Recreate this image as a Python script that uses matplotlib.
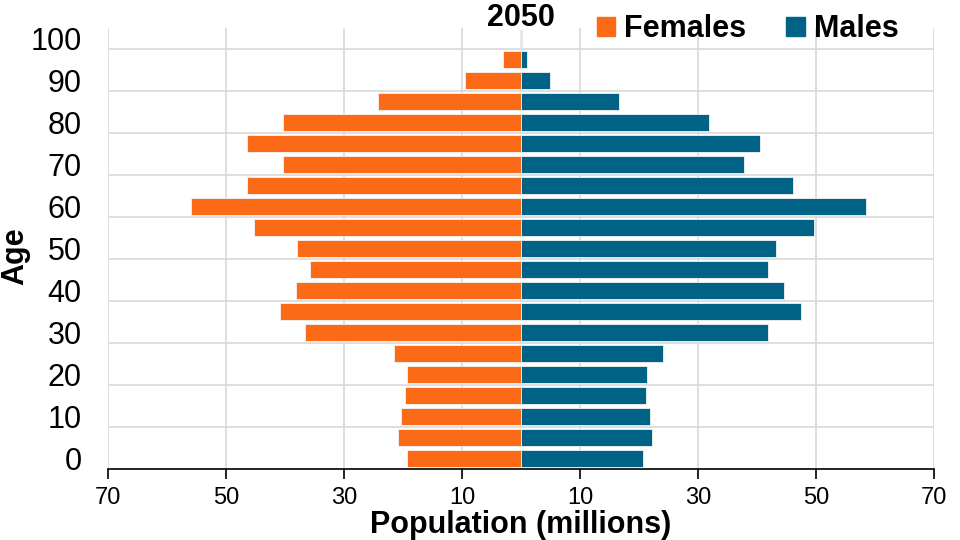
# population pyramid for 2050, females on the left and males on the right

import matplotlib.pyplot as plt
from matplotlib.patches import Patch

plt.rcParams['font.family'] = ['Liberation Sans', 'DejaVu Sans']

# age groups (bottom to top) and population in millions
ages = [0, 5, 10, 15, 20, 25, 30, 35, 40, 45, 50, 55, 60, 65, 70, 75, 80, 85, 90, 95, 100]
females = [19.4, 20.8, 20.4, 19.7, 19.4, 21.6, 36.6, 40.8, 38.1, 35.8, 37.9,
           45.3, 55.9, 46.4, 40.3, 46.4, 40.3, 24.2, 9.5, 3.1, 0.2]
males = [20.6, 22.2, 21.9, 21.2, 21.4, 24.1, 41.8, 47.5, 44.6, 41.8, 43.2,
         49.7, 58.5, 46.1, 37.8, 40.5, 31.8, 16.6, 5.0, 1.0, 0.1]

x_ticks = [-70, -50, -30, -10, 10, 30, 50, 70]
x_labels = ["70", "50", "30", "10", "10", "30", "50", "70"]
y_labels = ["0", "10", "20", "30", "40", "50", "60", "70", "80", "90", "100"]

orange = "#FB6A16"
blue = "#006386"

fig = plt.figure(figsize=(9.6, 5.4), dpi=100)
ax = fig.add_axes([0.1125, 0.1315, 0.8604, 0.8167])

pos = list(range(len(ages)))
ax.barh(pos, [-f for f in females], height=0.78, color=orange,
        edgecolor="#f4f4f4", linewidth=0.6, zorder=3)
ax.barh(pos, males, height=0.78, color=blue,
        edgecolor="#f4f4f4", linewidth=0.6, zorder=3)

ax.set_xlim(-70, 70)
ax.set_ylim(-0.5, len(ages) - 0.5)

ax.set_xticks(x_ticks)
ax.set_xticklabels(x_labels, fontsize=17)
ax.set_yticks(pos[::2])
ax.set_yticklabels(y_labels, fontsize=22)
# gridlines sit between every second pair of bars, like the excel original
ax.set_yticks([p + 1.5 for p in pos[:-1:2]], minor=True)

ax.tick_params(axis="y", which="both", length=0, pad=19)
ax.tick_params(axis="x", length=7, width=1.2, pad=6)
ax.grid(axis="x", color="#d9d9d9", linewidth=1.2, zorder=0)
ax.grid(axis="y", which="minor", color="#d9d9d9", linewidth=1.2, zorder=0)

for s in ["top", "right", "left"]:
    ax.spines[s].set_visible(False)
ax.spines["bottom"].set_linewidth(1.2)
ax.spines["bottom"].set_zorder(4)

# axis titles placed by hand
fig.text(521 / 960, 1 - 525 / 540, "Population (millions)", fontsize=22,
         fontweight="bold", ha="center", va="center")
fig.text(15 / 960, 1 - 256 / 540, "Age", fontsize=22, fontweight="bold",
         rotation=90, ha="center", va="center")

fig.text(521 / 960, 1 - 18 / 540, "2050", fontsize=22, fontweight="bold",
         ha="center", va="center")

handles = [Patch(color=orange, label="Females"), Patch(color=blue, label="Males")]
fig.legend(handles=handles, loc="center right", bbox_to_anchor=(926 / 960, 1 - 29 / 540),
           ncol=2, frameon=False, prop={"size": 22, "weight": "bold"},
           handlelength=0.6, handleheight=0.6, handletextpad=0.3, columnspacing=1.3)

plt.savefig("out.png", dpi=100)
